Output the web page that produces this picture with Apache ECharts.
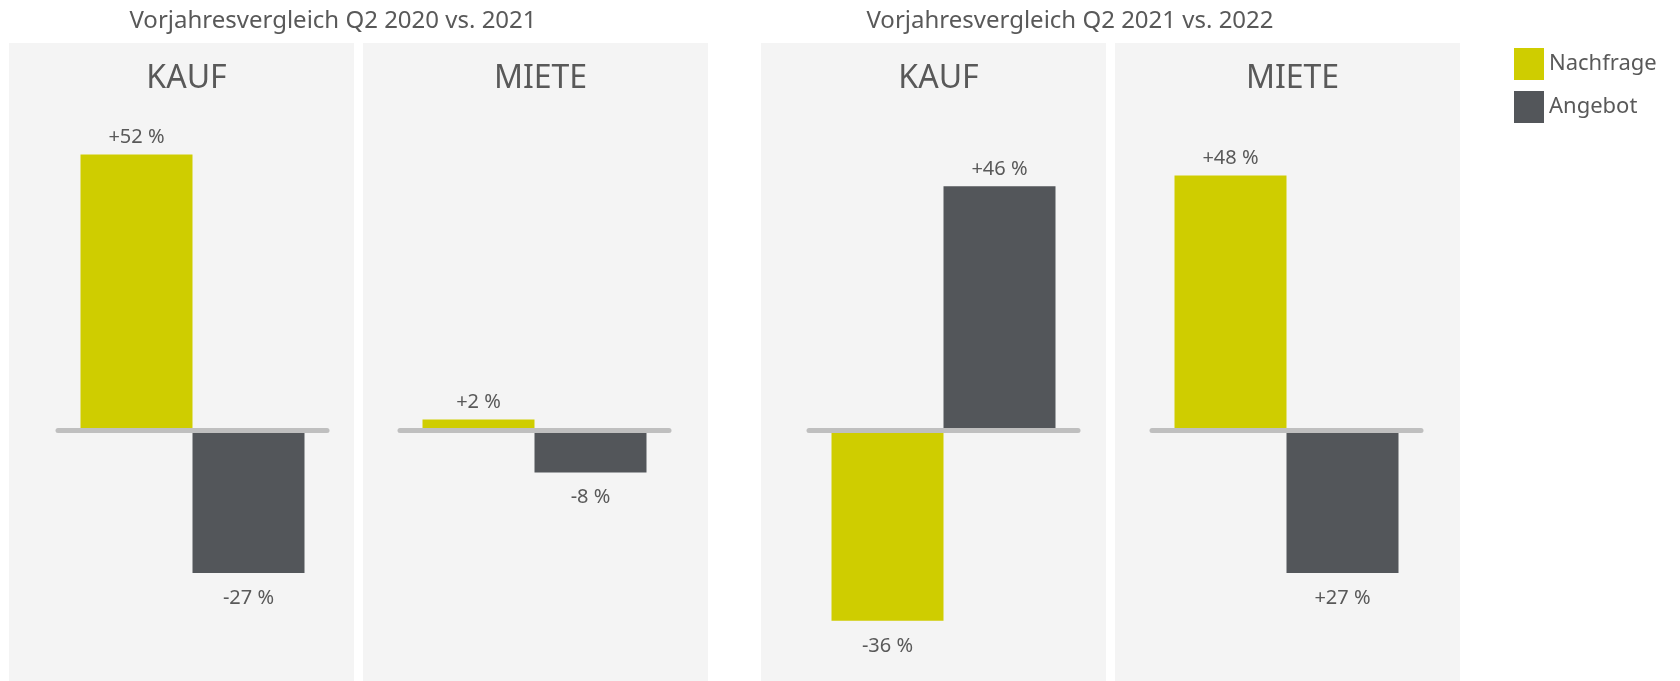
<!DOCTYPE html>
<html>
<head>
<meta charset="utf-8">
<title>Vorjahresvergleich</title>
<script src="https://cdn.jsdelivr.net/npm/echarts@6/dist/echarts.min.js"></script>
<style>
  html, body { margin: 0; padding: 0; background: #ffffff; }
  #main { width: 1680px; height: 681px; }
</style>
</head>
<body>
<div id="main"></div>
<script>
// data
var groupTitles = ['Vorjahresvergleich Q2 2020 vs. 2021', 'Vorjahresvergleich Q2 2021 vs. 2022'];
var panelTitles = ['KAUF', 'MIETE', 'KAUF', 'MIETE'];
var seriesNames = ['Nachfrage', 'Angebot'];
var nachfrage = [52, 2, -36, 48];
var angebot = [-27, -8, 46, -27];
var nachfrageLabels = ['+52 %', '+2 %', '-36 %', '+48 %'];
var angebotLabels = ['-27 %', '-8 %', '+46 %', '+27 %'];

var colors = ['#cfcd00', '#53565a'];
var textColor = '#595959';

// layout of the four panels
var panelLeft = [9, 363, 761, 1115];
var panelWidth = 345;
var gridLeft = [58, 400, 809, 1152];
var gridWidth = 269;

var chart = echarts.init(document.getElementById('main'), null, { renderer: 'canvas' });

var titles = [];
var grids = [];
var xAxes = [];
var yAxes = [];
var series = [];
var panels = [];

titles.push({
    text: groupTitles[0], left: 328, top: 4, textAlign: 'center',
    textStyle: { fontFamily: 'Noto Sans', fontSize: 24, fontWeight: 'normal', color: textColor }
});
titles.push({
    text: groupTitles[1], left: 1065, top: 4, textAlign: 'center',
    textStyle: { fontFamily: 'Noto Sans', fontSize: 24, fontWeight: 'normal', color: textColor }
});

function barLabel(text, value) {
    return {
        show: true,
        position: value >= 0 ? 'top' : 'bottom',
        distance: value >= 0 ? 7 : 15,
        formatter: text,
        fontFamily: 'Noto Sans',
        fontSize: 20,
        color: textColor
    };
}

for (var i = 0; i < 4; i++) {
    panels.push({
        type: 'rect',
        left: panelLeft[i], top: 43,
        shape: { width: panelWidth, height: 638 },
        style: { fill: '#f4f4f4' },
        z: -10
    });
    titles.push({
        text: panelTitles[i], left: panelLeft[i] + panelWidth / 2, top: 58, textAlign: 'center',
        textStyle: { fontFamily: 'Noto Sans', fontSize: 32, fontWeight: 'normal', color: textColor }
    });
    grids.push({ left: gridLeft[i], width: gridWidth, top: 112, bottom: 39 });
    xAxes.push({
        type: 'category', gridIndex: i, data: [''], z: 10,
        axisLine: { onZero: true, lineStyle: { color: '#bfbfbf', width: 5 } },
        axisTick: { show: false }, axisLabel: { show: false }
    });
    yAxes.push({
        type: 'value', gridIndex: i, min: -40, max: 60,
        axisLine: { show: false }, axisTick: { show: false },
        axisLabel: { show: false }, splitLine: { show: false }
    });
    series.push({
        name: seriesNames[0], type: 'bar', xAxisIndex: i, yAxisIndex: i,
        barWidth: 112, barGap: '0%', itemStyle: { color: colors[0] },
        data: [{ value: nachfrage[i], label: barLabel(nachfrageLabels[i], nachfrage[i]) }]
    });
    series.push({
        name: seriesNames[1], type: 'bar', xAxisIndex: i, yAxisIndex: i,
        barWidth: 112, barGap: '0%', itemStyle: { color: colors[1] },
        data: [{ value: angebot[i], label: barLabel(angebotLabels[i], angebot[i]) }]
    });
}

var option = {
    backgroundColor: '#ffffff',
    animation: false,
    color: colors,
    title: titles,
    legend: {
        data: seriesNames,
        orient: 'vertical',
        left: 1509, top: 43,
        itemWidth: 30, itemHeight: 32, itemGap: 11,
        icon: 'rect',
        textStyle: { fontFamily: 'Noto Sans', fontSize: 22, color: textColor }
    },
    graphic: panels,
    grid: grids,
    xAxis: xAxes,
    yAxis: yAxes,
    series: series
};

chart.setOption(option);
</script>
</body>
</html>
